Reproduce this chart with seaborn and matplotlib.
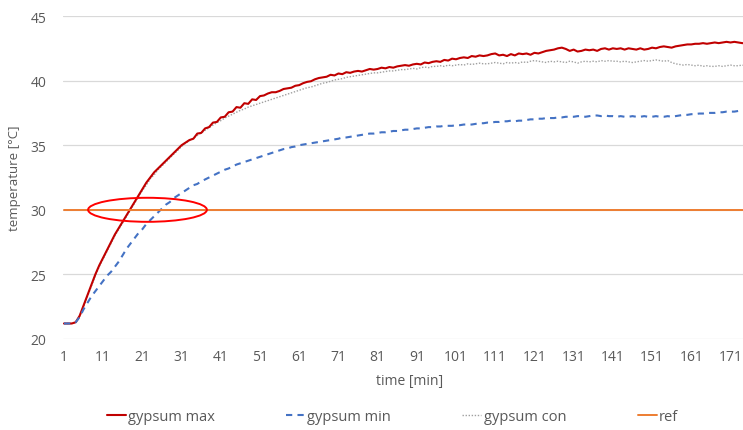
import numpy as np
import pandas as pd
import seaborn as sns
import matplotlib
matplotlib.use("Agg")
import matplotlib.pyplot as plt
from matplotlib.patches import Ellipse

# ---------------- data ----------------
gypsum_max = [
    21.2, 21.2, 21.2, 21.3, 21.8, 22.6, 23.4, 24.2, 25.0, 25.7,
    26.3, 26.9, 27.5, 28.1, 28.6, 29.1, 29.6, 30.1, 30.6, 31.1,
    31.6, 32.1, 32.5, 32.9, 33.2, 33.5, 33.8, 34.1, 34.4, 34.7,
    35.0, 35.2, 35.4, 35.5, 35.9, 35.95, 36.3, 36.4, 36.75, 36.8,
    37.15, 37.2, 37.55, 37.6, 37.95, 37.9, 38.25, 38.2, 38.55, 38.5,
    38.8, 38.85, 39.0, 39.1, 39.1, 39.2, 39.35, 39.4, 39.45, 39.6,
    39.65, 39.8, 39.9, 39.95, 40.1, 40.2, 40.25, 40.3, 40.45, 40.4,
    40.55, 40.5, 40.65, 40.6, 40.7, 40.75, 40.7, 40.8, 40.9, 40.85,
    40.9, 41.0, 40.95, 41.05, 41.0, 41.1, 41.15, 41.2, 41.15, 41.25,
    41.3, 41.25, 41.4, 41.35, 41.45, 41.5, 41.45, 41.6, 41.55, 41.7,
    41.65, 41.75, 41.8, 41.75, 41.9, 41.85, 41.95, 41.9, 41.95, 42.05,
    42.1, 41.95, 42.0, 41.9, 42.05, 41.95, 42.1, 42.05, 42.1, 42.0,
    42.15, 42.1, 42.2, 42.3, 42.35, 42.4, 42.5, 42.55, 42.45, 42.3,
    42.4, 42.25, 42.3, 42.4, 42.35, 42.4, 42.3, 42.45, 42.5, 42.4,
    42.5, 42.45, 42.5, 42.4, 42.5, 42.45, 42.4, 42.5, 42.4, 42.45,
    42.55, 42.5, 42.6, 42.65, 42.6, 42.55, 42.65, 42.7, 42.75, 42.8,
    42.8, 42.85, 42.85, 42.9, 42.85, 42.9, 42.95, 42.9, 42.95, 43.0,
    42.95, 43.0, 42.95, 42.9, 42.9,
]

gypsum_min = [
    21.2, 21.2, 21.2, 21.3, 21.7, 22.3, 22.8, 23.3, 23.7, 24.1,
    24.5, 24.9, 25.2, 25.6, 26.0, 26.5, 27.0, 27.4, 27.8, 28.2,
    28.5, 28.9, 29.2, 29.5, 29.8, 30.1, 30.4, 30.6, 30.9, 31.1,
    31.3, 31.5, 31.7, 31.9, 32.0, 32.2, 32.35, 32.5, 32.65, 32.8,
    32.95, 33.1, 33.2, 33.35, 33.5, 33.6, 33.7, 33.8, 33.9, 34.0,
    34.1, 34.2, 34.3, 34.4, 34.5, 34.6, 34.7, 34.75, 34.85, 34.9,
    35.0, 35.05, 35.1, 35.15, 35.2, 35.25, 35.3, 35.35, 35.4, 35.45,
    35.5, 35.6, 35.6, 35.65, 35.7, 35.75, 35.8, 35.85, 35.9, 35.9,
    35.95, 36.0, 36.0, 36.05, 36.1, 36.1, 36.15, 36.2, 36.2, 36.25,
    36.3, 36.3, 36.35, 36.4, 36.4, 36.45, 36.45, 36.5, 36.5, 36.5,
    36.55, 36.55, 36.6, 36.6, 36.6, 36.65, 36.7, 36.7, 36.75, 36.75,
    36.8, 36.8, 36.85, 36.85, 36.9, 36.85, 36.9, 36.9, 36.95, 37.0,
    37.0, 37.05, 37.05, 37.1, 37.1, 37.1, 37.15, 37.15, 37.2, 37.2,
    37.2, 37.25, 37.25, 37.2, 37.25, 37.3, 37.3, 37.25, 37.3, 37.25,
    37.25, 37.2, 37.25, 37.2, 37.2, 37.25, 37.2, 37.2, 37.25, 37.2,
    37.2, 37.25, 37.2, 37.2, 37.25, 37.2, 37.25, 37.3, 37.35, 37.35,
    37.4, 37.4, 37.45, 37.45, 37.5, 37.5, 37.5, 37.55, 37.55, 37.6,
    37.6, 37.6, 37.65, 37.65, 37.65,
]

gypsum_con = [
    21.2, 21.2, 21.2, 21.25, 21.75, 22.5, 23.3, 24.1, 24.9, 25.6,
    26.2, 26.8, 27.4, 28.0, 28.5, 29.0, 29.5, 30.0, 30.5, 31.0,
    31.5, 31.9, 32.4, 32.7, 33.1, 33.4, 33.7, 34.0, 34.3, 34.6,
    34.9, 35.15, 35.35, 35.55, 35.75, 35.95, 36.15, 36.35, 36.55, 36.75,
    36.9, 37.1, 37.25, 37.4, 37.55, 37.7, 37.8, 37.95, 38.05, 38.15,
    38.25, 38.35, 38.45, 38.55, 38.65, 38.75, 38.85, 38.95, 39.05, 39.15,
    39.25, 39.35, 39.45, 39.5, 39.6, 39.7, 39.8, 39.85, 39.95, 40.05,
    40.1, 40.15, 40.25, 40.3, 40.35, 40.4, 40.45, 40.5, 40.55, 40.6,
    40.6, 40.65, 40.7, 40.75, 40.75, 40.8, 40.85, 40.85, 40.9, 40.95,
    40.9, 41.0, 41.05, 41.0, 41.1, 41.1, 41.15, 41.1, 41.2, 41.15,
    41.2, 41.25, 41.2, 41.3, 41.25, 41.3, 41.35, 41.3, 41.3, 41.35,
    41.4, 41.35, 41.3, 41.4, 41.35, 41.4, 41.35, 41.45, 41.4, 41.5,
    41.55, 41.5, 41.45, 41.4, 41.5, 41.45, 41.5, 41.45, 41.4, 41.5,
    41.45, 41.35, 41.45, 41.5, 41.45, 41.5, 41.45, 41.55, 41.5, 41.55,
    41.5, 41.5, 41.45, 41.5, 41.45, 41.4, 41.45, 41.5, 41.55, 41.5,
    41.55, 41.6, 41.55, 41.5, 41.55, 41.4, 41.3, 41.25, 41.2, 41.25,
    41.2, 41.15, 41.2, 41.1, 41.15, 41.1, 41.1, 41.15, 41.1, 41.15,
    41.2, 41.15, 41.15, 41.2, 41.15,
]

REF_VALUE = 30
time_min = list(range(1, len(gypsum_max) + 1))
ref = [REF_VALUE] * len(time_min)

x_ticks = list(range(1, 172, 10))
y_ticks = [20, 25, 30, 35, 40, 45]

series_names = ["gypsum max", "gypsum min", "gypsum con", "ref"]

# annotation ellipse (data units)
ellipse_center = (22.3, 30.0)
ellipse_size = (30.3, 1.86)

# ---------------- style ----------------
sns.set_theme(style="white")
plt.rcParams["font.family"] = ["Open Sans", "DejaVu Sans"]
TXT = "#595959"

fig = plt.figure(figsize=(7.43, 4.31), dpi=100)
W, H = 743, 431
ax = fig.add_axes([63 / W, (H - 340) / H, (W - 63) / W, 323 / H])

df = pd.DataFrame({"time": time_min, "max": gypsum_max, "min": gypsum_min,
                   "con": gypsum_con, "ref": ref})

sns.lineplot(data=df, x="time", y="con", ax=ax, color="#A0A0A0",
             linestyle=(0, (1, 1.2)), linewidth=1.0, label=series_names[2])
sns.lineplot(data=df, x="time", y="max", ax=ax, color="#C00000",
             linewidth=1.5, label=series_names[0])
sns.lineplot(data=df, x="time", y="min", ax=ax, color="#4472C4",
             linestyle=(0, (3, 2.5)), linewidth=1.5, label=series_names[1])
sns.lineplot(data=df, x="time", y="ref", ax=ax, color="#ED7D31",
             linewidth=1.4, label=series_names[3])

ax.add_patch(Ellipse(ellipse_center, ellipse_size[0], ellipse_size[1],
                     fill=False, edgecolor="#FF0000", linewidth=1.4, zorder=5))

ax.set_xlim(0.75, 174.2)
ax.set_ylim(20, 45)
ax.set_xticks(x_ticks)
ax.set_yticks(y_ticks)
ax.tick_params(axis="both", length=0, labelsize=10, colors=TXT)
ax.tick_params(axis="x", pad=7)
ax.tick_params(axis="y", pad=12)
ax.yaxis.grid(True, color="#D9D9D9", linewidth=0.9)
ax.xaxis.grid(False)
for s in ax.spines.values():
    s.set_visible(False)

ax.set_xlabel("time [min]", fontsize=10, color=TXT)
ax.xaxis.set_label_coords(0.51, -0.105)
ax.set_ylabel("temperature [°C]", fontsize=9.5, color=TXT)
ax.yaxis.set_label_coords(-0.062, 0.5)

handles, labels = ax.get_legend_handles_labels()
order = [labels.index(n) for n in series_names]
ax.get_legend().remove()
fig.legend([handles[i] for i in order], [labels[i] for i in order],
           loc="center", bbox_to_anchor=(0.528, 1 - 418 / H), ncol=4,
           frameon=False, fontsize=10.5, handlelength=1.3, handletextpad=0.15,
           columnspacing=4.9, labelcolor=TXT)

fig.savefig("out.png", dpi=100)
